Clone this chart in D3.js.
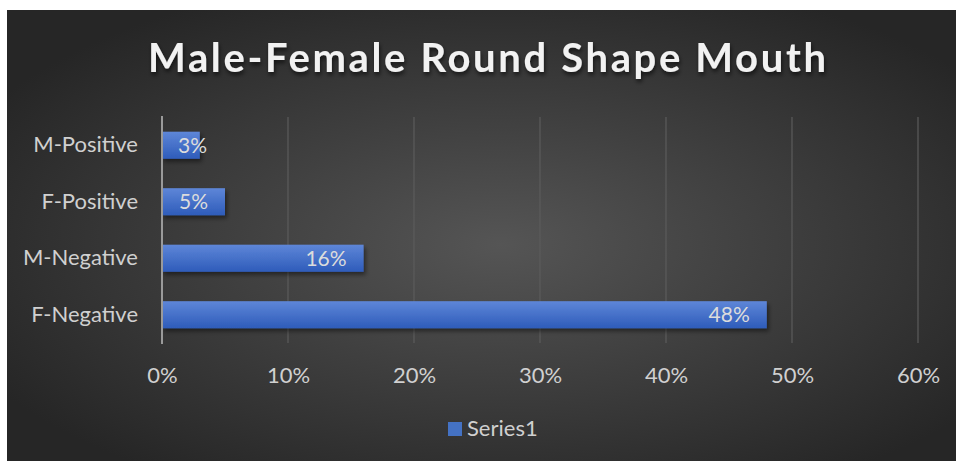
<!DOCTYPE html>
<html>
<head>
<meta charset="utf-8">
<script src="https://cdn.jsdelivr.net/npm/d3@7"></script>
<style>
  html, body { margin: 0; padding: 0; background: #fff; }
  svg { display: block; }
</style>
</head>
<body>
<div id="chart"></div>
<script>
// data
const categories = ["M-Positive", "F-Positive", "M-Negative", "F-Negative"];
const values = [0.03, 0.05, 0.16, 0.48];
const xTicks = [0, 0.1, 0.2, 0.3, 0.4, 0.5, 0.6];
const seriesName = "Series1";
const chartTitle = "Male-Female Round Shape Mouth";

const W = 956, H = 461;
const font = "Lato, 'Open Sans', sans-serif";

const svg = d3.select("#chart").append("svg")
  .attr("width", W).attr("height", H);

const defs = svg.append("defs");

// dark radial background
const bg = defs.append("radialGradient").attr("id", "bg")
  .attr("cx", "52%").attr("cy", "52%").attr("r", "62%");
bg.append("stop").attr("offset", "0%").attr("stop-color", "#555555");
bg.append("stop").attr("offset", "100%").attr("stop-color", "#262626");

const barGrad = defs.append("linearGradient").attr("id", "barGrad")
  .attr("x1", 0).attr("y1", 0).attr("x2", 0).attr("y2", 1);
barGrad.append("stop").attr("offset", "0%").attr("stop-color", "#5e86d8");
barGrad.append("stop").attr("offset", "100%").attr("stop-color", "#2e5cba");

const shadow = defs.append("filter").attr("id", "shadow")
  .attr("x", "-5%").attr("y", "-20%").attr("width", "120%").attr("height", "160%");
shadow.append("feDropShadow").attr("dx", 2).attr("dy", 3).attr("stdDeviation", 2)
  .attr("flood-color", "#000").attr("flood-opacity", 0.45);

const tshadow = defs.append("filter").attr("id", "tshadow")
  .attr("x", "-5%").attr("y", "-20%").attr("width", "110%").attr("height", "160%");
tshadow.append("feDropShadow").attr("dx", 1).attr("dy", 3).attr("stdDeviation", 2)
  .attr("flood-color", "#000").attr("flood-opacity", 0.6);

svg.append("rect")
  .attr("x", 7).attr("y", 10)
  .attr("width", W - 7).attr("height", H - 10)
  .attr("fill", "url(#bg)");

// title
svg.append("text")
  .attr("x", 487).attr("y", 72)
  .attr("text-anchor", "middle")
  .attr("font-family", font)
  .attr("font-weight", "bold")
  .attr("font-size", 40)
  .attr("fill", "#f2f2f2")
  .attr("textLength", 678)
  .attr("lengthAdjust", "spacing")
  .attr("filter", "url(#tshadow)")
  .text(chartTitle);

// scales
const x = d3.scaleLinear().domain([0, 0.6]).range([162, 918]);
const y = d3.scaleBand().domain(categories).range([117, 343])
  .paddingInner(0.52).paddingOuter(0.26);

// gridlines
svg.append("g").selectAll("line")
  .data(xTicks.slice(1))
  .join("line")
  .attr("x1", d => x(d)).attr("x2", d => x(d))
  .attr("y1", 117).attr("y2", 343)
  .attr("stroke", "#5c5c5c").attr("stroke-width", 1.2);

// x axis labels
const xAxis = d3.axisBottom(x)
  .tickValues(xTicks)
  .tickFormat(d3.format(".0%"))
  .tickSize(0).tickPadding(0);
const gx = svg.append("g")
  .attr("transform", "translate(0,367)")
  .call(xAxis);
gx.select(".domain").remove();
gx.selectAll("text")
  .attr("font-family", font).attr("font-size", 22)
  .attr("fill", "#d0d0d0")
  .attr("dy", "0.71em");

// y axis labels
const yAxis = d3.axisLeft(y).tickSize(0).tickPadding(24);
const gy = svg.append("g")
  .attr("transform", "translate(162,0)")
  .call(yAxis);
gy.select(".domain").remove();
gy.selectAll("text")
  .attr("font-family", font).attr("font-size", 22)
  .attr("fill", "#d0d0d0");

// bars
svg.append("g").selectAll("rect")
  .data(values)
  .join("rect")
  .attr("x", x(0))
  .attr("y", (d, i) => y(categories[i]))
  .attr("width", d => x(d) - x(0))
  .attr("height", y.bandwidth())
  .attr("fill", "url(#barGrad)")
  .attr("filter", "url(#shadow)");

// axis line
svg.append("line")
  .attr("x1", x(0)).attr("x2", x(0))
  .attr("y1", 116).attr("y2", 344)
  .attr("stroke", "#9a9a9a").attr("stroke-width", 2);

// data labels, inside end
const lbl = svg.append("g").selectAll("text")
  .data(values)
  .join("text")
  .attr("y", (d, i) => y(categories[i]) + y.bandwidth() / 2)
  .attr("dy", "0.36em")
  .attr("text-anchor", "end")
  .attr("font-family", font).attr("font-size", 21)
  .attr("fill", "#dcdcdc")
  .text(d => d3.format(".0%")(d));
lbl.attr("x", function(d) {
  const w = this.getComputedTextLength();
  return Math.max(x(d) - 17, x(0) + 16 + w);
});

// legend
const lg = svg.append("g");
lg.append("rect")
  .attr("x", 448).attr("y", 422).attr("width", 14).attr("height", 14)
  .attr("fill", "#4472c4");
lg.append("text")
  .attr("x", 467).attr("y", 436)
  .attr("font-family", font).attr("font-size", 22)
  .attr("fill", "#d0d0d0")
  .text(seriesName);
</script>
</body>
</html>
